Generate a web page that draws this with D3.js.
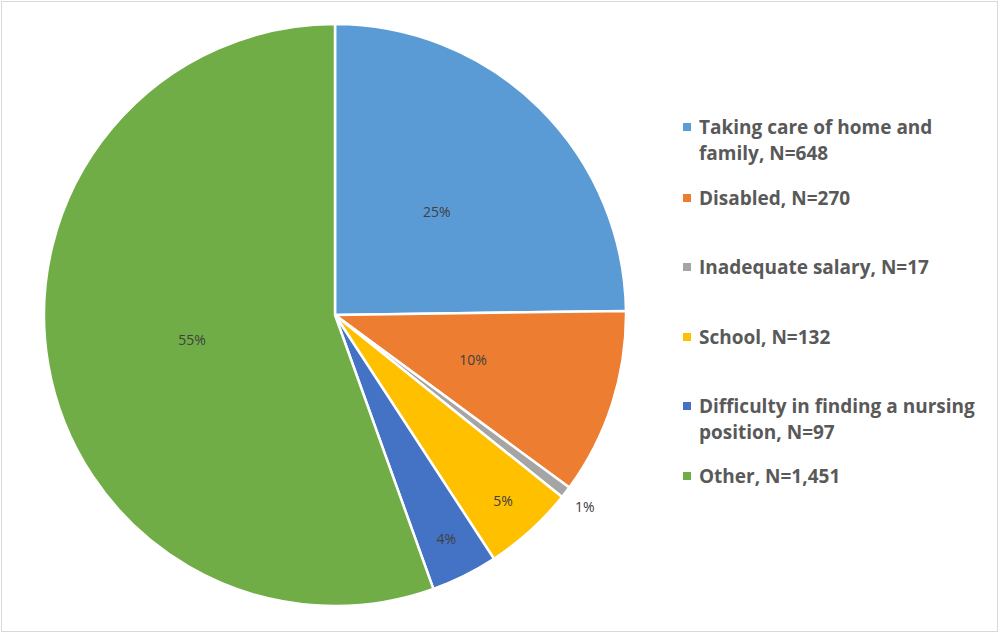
<!DOCTYPE html>
<html><head><meta charset="utf-8">
<script src="https://cdn.jsdelivr.net/npm/d3@7"></script>
<style>
html,body{margin:0;padding:0;background:#fff;}
svg{display:block;}
</style></head>
<body>
<svg id="chart" width="1000" height="634"></svg>
<script>
const categories = ["Taking care of home and family, N=648", "Disabled, N=270", "Inadequate salary, N=17", "School, N=132", "Difficulty in finding a nursing position, N=97", "Other, N=1,451"];
const legendLines = [["Taking care of home and", "family, N=648"], ["Disabled, N=270"], ["Inadequate salary, N=17"], ["School, N=132"], ["Difficulty in finding a nursing", "position, N=97"], ["Other, N=1,451"]];
const values = [648, 270, 17, 132, 97, 1451];
const colors = ["#5B9BD5", "#ED7D31", "#A5A5A5", "#FFC000", "#4472C4", "#70AD47"];

const svg = d3.select("#chart");
svg.append("rect").attr("x",1.5).attr("y",1.5).attr("width",996).attr("height",630)
  .attr("fill","#fff").attr("stroke","#d9d9d9").attr("stroke-width",1);

const cx = 335, cy = 315, R = 291;
const total = d3.sum(values);
const pie = d3.pie().sort(null).value(d => d)(values);
const arc = d3.arc().innerRadius(0).outerRadius(R);
const g = svg.append("g").attr("transform", `translate(${cx},${cy})`);
g.selectAll("path").data(pie).join("path")
  .attr("d", arc).attr("fill", (d,i) => colors[i])
  .attr("stroke", "#fff").attr("stroke-width", 2.5).attr("stroke-linejoin","round");

function labelR(frac){ return frac < 0.02 ? R + 24 : frac < 0.08 ? 250 : 145; }
g.selectAll("text").data(pie).join("text")
  .attr("transform", d => {
    const f = d.value/total;
    const c = d3.arc().innerRadius(labelR(f)).outerRadius(labelR(f)).centroid(d);
    return `translate(${c[0]},${c[1]})`;
  })
  .attr("text-anchor","middle").attr("dominant-baseline","central")
  .attr("font-family","'Open Sans', sans-serif").attr("font-size",14)
  .attr("fill","#404040")
  .text(d => Math.round(d.value/total*100) + "%");

const legendY = [127, 198, 267, 337, 406, 476];
const lg = svg.append("g").attr("font-family","'Open Sans', sans-serif").attr("font-size",19).attr("font-weight",700).attr("fill","#595959");
legendLines.forEach((lines, i) => {
  const y = legendY[i];
  lg.append("rect").attr("x", 683).attr("y", y - 4).attr("width", 8).attr("height", 8).attr("fill", colors[i]);
  lines.forEach((t, j) => {
    lg.append("text").attr("x", 699).attr("y", y + j*26).attr("dominant-baseline","central").text(t);
  });
});
</script>
</body></html>
